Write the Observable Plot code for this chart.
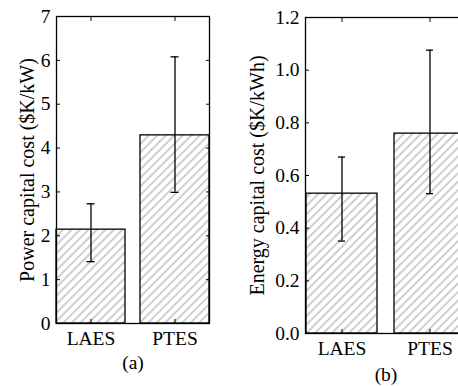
<!DOCTYPE html>
<html><head><meta charset="utf-8">
<script src="https://cdn.jsdelivr.net/npm/d3@7"></script>
<script src="https://cdn.jsdelivr.net/npm/@observablehq/plot@0.6"></script>
<style>
html,body{margin:0;padding:0;background:#fff}
body{width:458px;height:386px;overflow:hidden;position:relative}
.panel{position:absolute;top:0}
</style></head><body>
<div id="pa" class="panel" style="left:0;width:230px"></div>
<div id="pb" class="panel" style="left:228px;width:258px"></div>
<script>
const categories = ["LAES", "PTES"];
const powerCost = [2.14, 4.29];
const powerLow = [1.41, 2.99];
const powerHigh = [2.73, 6.08];
const energyCost = [0.531, 0.759];
const energyLow = [0.351, 0.531];
const energyHigh = [0.670, 1.076];
const powerTicks = [0, 1, 2, 3, 4, 5, 6, 7];
const energyTicks = [0, 0.2, 0.4, 0.6, 0.8, 1.0, 1.2];
const powerLabel = "Power capital cost ($K/kW)";
const energyLabel = "Energy capital cost ($K/kWh)";
const captionA = "(a)";
const captionB = "(b)";

const FONT = "'Liberation Serif', 'Times New Roman', serif";

function panel(o) {
  const data = categories.map((c, i) => ({cat: c, v: o.values[i], lo: o.lo[i], hi: o.hi[i]}));
  const blank = () => "";
  const svg = Plot.plot({
    width: o.width, height: o.height,
    marginLeft: o.ml, marginRight: o.mr, marginTop: o.mt, marginBottom: o.mb,
    style: {fontFamily: FONT, fontSize: "19.5px", color: "black", background: "white", maxWidth: "none"},
    x: {domain: categories, paddingInner: o.pad, paddingOuter: 0, label: null},
    y: {domain: o.domain, label: null},
    marks: [
      Plot.barY(data, {x: "cat", y: "v", fill: `url(#${o.pid})`, stroke: "black", strokeWidth: 1.3}),
      Plot.ruleX(data, {x: "cat", y1: "lo", y2: "hi", stroke: "black", strokeWidth: 1.3}),
      Plot.tickY(data, {x: "cat", y: "lo", insetLeft: o.capInset, insetRight: o.capInset, stroke: "black", strokeWidth: 1.3}),
      Plot.tickY(data, {x: "cat", y: "hi", insetLeft: o.capInset, insetRight: o.capInset, stroke: "black", strokeWidth: 1.3}),
      Plot.frame({stroke: "black", strokeWidth: 1.3}),
      Plot.axisY({ticks: o.ticks, tickFormat: o.fmt, tickSize: 0, tickPadding: 6, label: null}),
      Plot.axisY({ticks: o.ticks, tickFormat: blank, tickSize: -4, label: null}),
      Plot.axisY({anchor: "right", ticks: o.ticks, tickFormat: blank, tickSize: -4, label: null}),
      Plot.axisX({anchor: "bottom", tickSize: 0, tickPadding: 8, label: null}),
      Plot.axisX({anchor: "bottom", tickSize: -4, tickFormat: blank, label: null}),
      Plot.axisX({anchor: "top", tickSize: -4, tickFormat: blank, label: null}),
      Plot.text([o.ylabel], {text: d => d, frameAnchor: "left", textAnchor: "middle", dx: o.labelDx, rotate: -90, fontSize: 20, lineAnchor: "middle"}),
      Plot.text([o.caption], {text: d => d, frameAnchor: "bottom", textAnchor: "middle", dy: o.capDy, fontSize: 19.5, lineAnchor: "middle"})
    ]
  });
  const ns = "http://www.w3.org/2000/svg";
  const defs = document.createElementNS(ns, "defs");
  defs.innerHTML = `<pattern id="${o.pid}" patternUnits="userSpaceOnUse" width="6" height="6" patternTransform="rotate(45)"><rect width="6" height="6" fill="white"/><line x1="3" y1="-1" x2="3" y2="7" stroke="#858585" stroke-width="0.8"/></pattern>`;
  svg.insertBefore(defs, svg.firstChild);
  document.getElementById(o.el).appendChild(svg);
}

panel({
  el: "pa", pid: "hatchA", values: powerCost, lo: powerLow, hi: powerHigh,
  ticks: powerTicks, domain: [0, 7], fmt: d3.format("d"),
  ylabel: powerLabel, caption: captionA,
  width: 230, height: 386, ml: 56, mr: 21, mt: 16, mb: 63,
  pad: 0.18, capInset: 30.5, labelDx: -29, capDy: 39
});
panel({
  el: "pb", pid: "hatchB", values: energyCost, lo: energyLow, hi: energyHigh,
  ticks: energyTicks, domain: [0, 1.2], fmt: d3.format(".1f"),
  ylabel: energyLabel, caption: captionB,
  width: 258, height: 386, ml: 77, mr: 20, mt: 17, mb: 53,
  pad: 0.19, capInset: 32, labelDx: -48, capDy: 41
});
</script>
</body></html>
